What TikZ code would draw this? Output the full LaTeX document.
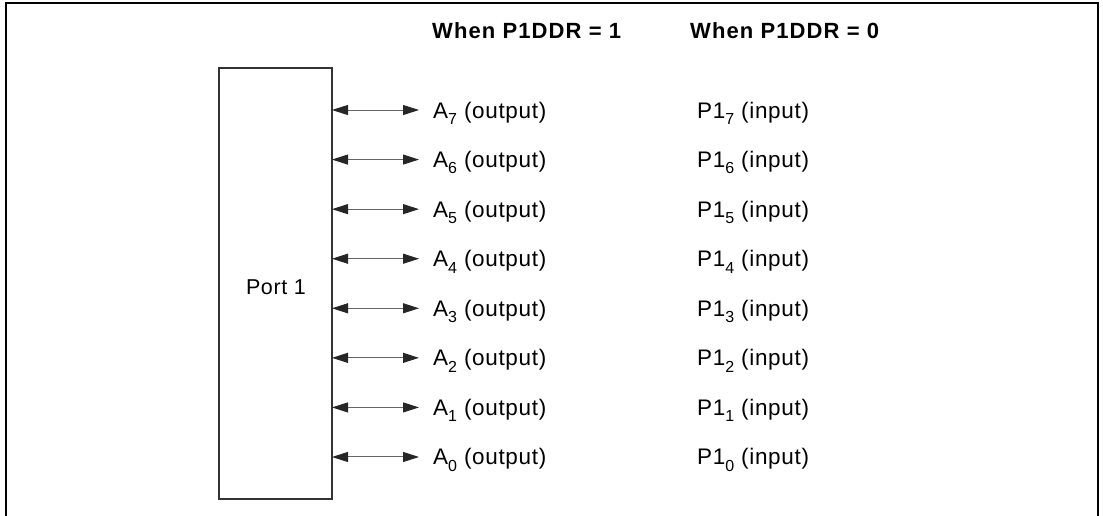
\documentclass[tikz,border=0pt]{standalone}
\usepackage{fontspec}
\setmainfont{Liberation Sans}[LetterSpace=3]
\newfontfamily\hdfont{Liberation Sans}[LetterSpace=5]
\usetikzlibrary{arrows.meta}
\newcommand{\mysub}[1]{\raisebox{-0.28em}{\fontsize{16}{18}\selectfont #1}}
\begin{document}
\begin{tikzpicture}[x=1pt,y=-1pt,
  lbl/.style={anchor=base west,inner sep=0pt,font=\fontsize{22.5}{26}\selectfont},
  hdr/.style={anchor=base west,inner sep=0pt,font=\hdfont\bfseries\fontsize{22}{26}\selectfont},
  portbox/.style={draw=black!80,line width=1.3pt,inner sep=0pt},
  link/.style={draw=black!60,line width=1pt,{Triangle[length=16pt,width=10pt,fill=black!85,color=black!85]}-{Triangle[length=16pt,width=10pt,fill=black!85,color=black!85]}}]
\useasboundingbox (0,0) rectangle (1103,515);
% outer frame (bottom open)
\coordinate (fbl) at (6,516);
\coordinate (ftl) at (6,3);
\coordinate (ftr) at (1098,3);
\coordinate (fbr) at (1098,516);
\draw[line width=2.5pt] (fbl) -- (ftl) -- (ftr) -- (fbr);
% port box
\node[portbox,minimum width=113pt,minimum height=431pt] (port) at (275.5,283.5) {};
\node[font=\fontsize{21.5}{24}\selectfont,inner sep=0pt,anchor=base] (portlbl) at (276,294) {Port 1};
% headers
\node[hdr] (h1) at (432,38.5) {When P1DDR = 1};
\node[hdr] (h0) at (690,38.5) {When P1DDR = 0};
% rows
\foreach \i [count=\k from 0] in {7,6,5,4,3,2,1,0} {
  \pgfmathsetmacro{\yy}{110+49.57*\k}
  \coordinate (s\i) at (332,\yy);
  \coordinate (t\i) at (419,\yy);
  \draw[link] (s\i) -- (t\i);
  \node[lbl] (a\i) at (433,\yy+8) {A\mysub{\i} (output)};
  \node[lbl] (p\i) at (697,\yy+8) {P1\mysub{\i} (input)};
}
\end{tikzpicture}
\end{document}
